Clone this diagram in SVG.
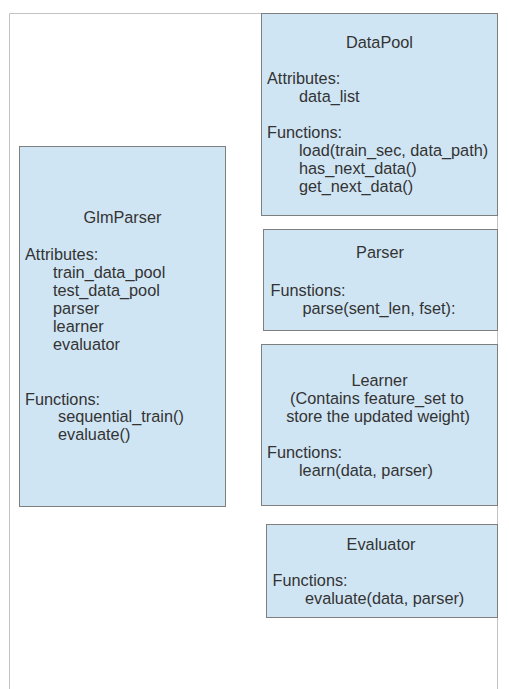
<svg xmlns="http://www.w3.org/2000/svg" width="509" height="689" viewBox="0 0 509 689">
<style>
.frame{fill:none;stroke:#c3c3c3;stroke-width:1}
.box{fill:#d0e5f3;stroke:#7f7f7f;stroke-width:1}
text{font-family:"Liberation Sans",Arial,sans-serif;font-size:16.3px;fill:#333333}
.c{text-anchor:middle}
</style>
<rect width="509" height="689" fill="#ffffff"/>
<path class="frame" d="M9.5,689 V13.5 H497.5 V689"/>
<g id="connectors"></g>
<g id="DataPool">
<rect class="box" x="261.5" y="13.5" width="236" height="202"/>
<text class="c" x="379.5" y="47.5">DataPool</text>
<text x="267" y="83.5">Attributes:</text>
<text x="299" y="101.5">data_list</text>
<text x="267" y="137.5">Functions:</text>
<text x="299" y="155.5">load(train_sec, data_path)</text>
<text x="299" y="173.5">has_next_data()</text>
<text x="299" y="191.5">get_next_data()</text>
</g>
<g id="GlmParser">
<rect class="box" x="19.5" y="146.5" width="206" height="360"/>
<text class="c" x="122.5" y="222.5">GlmParser</text>
<text x="25" y="259.5">Attributes:</text>
<text x="53" y="277.5">train_data_pool</text>
<text x="53" y="295.5">test_data_pool</text>
<text x="53" y="313.5">parser</text>
<text x="53" y="331.5">learner</text>
<text x="53" y="349.5">evaluator</text>
<text x="25" y="404.5">Functions:</text>
<text x="58" y="422">sequential_train()</text>
<text x="58" y="440">evaluate()</text>
</g>
<g id="Parser">
<rect class="box" x="263.5" y="229.5" width="234" height="101"/>
<text class="c" x="380" y="258">Parser</text>
<text x="270.5" y="295.5">Funstions:</text>
<text x="302.5" y="313.5">parse(sent_len, fset):</text>
</g>
<g id="Learner">
<rect class="box" x="261.5" y="344.5" width="236" height="161"/>
<text class="c" x="379.5" y="385.5">Learner</text>
<text class="c" x="377" y="403.5">(Contains feature_set to</text>
<text class="c" x="378" y="421.5">store the updated weight)</text>
<text x="267" y="458">Functions:</text>
<text x="299" y="475.5">learn(data, parser)</text>
</g>
<g id="Evaluator">
<rect class="box" x="266.5" y="524.5" width="231" height="93"/>
<text class="c" x="381" y="549.5">Evaluator</text>
<text x="272.5" y="585.5">Functions:</text>
<text x="305" y="603.5">evaluate(data, parser)</text>
</g>
</svg>
